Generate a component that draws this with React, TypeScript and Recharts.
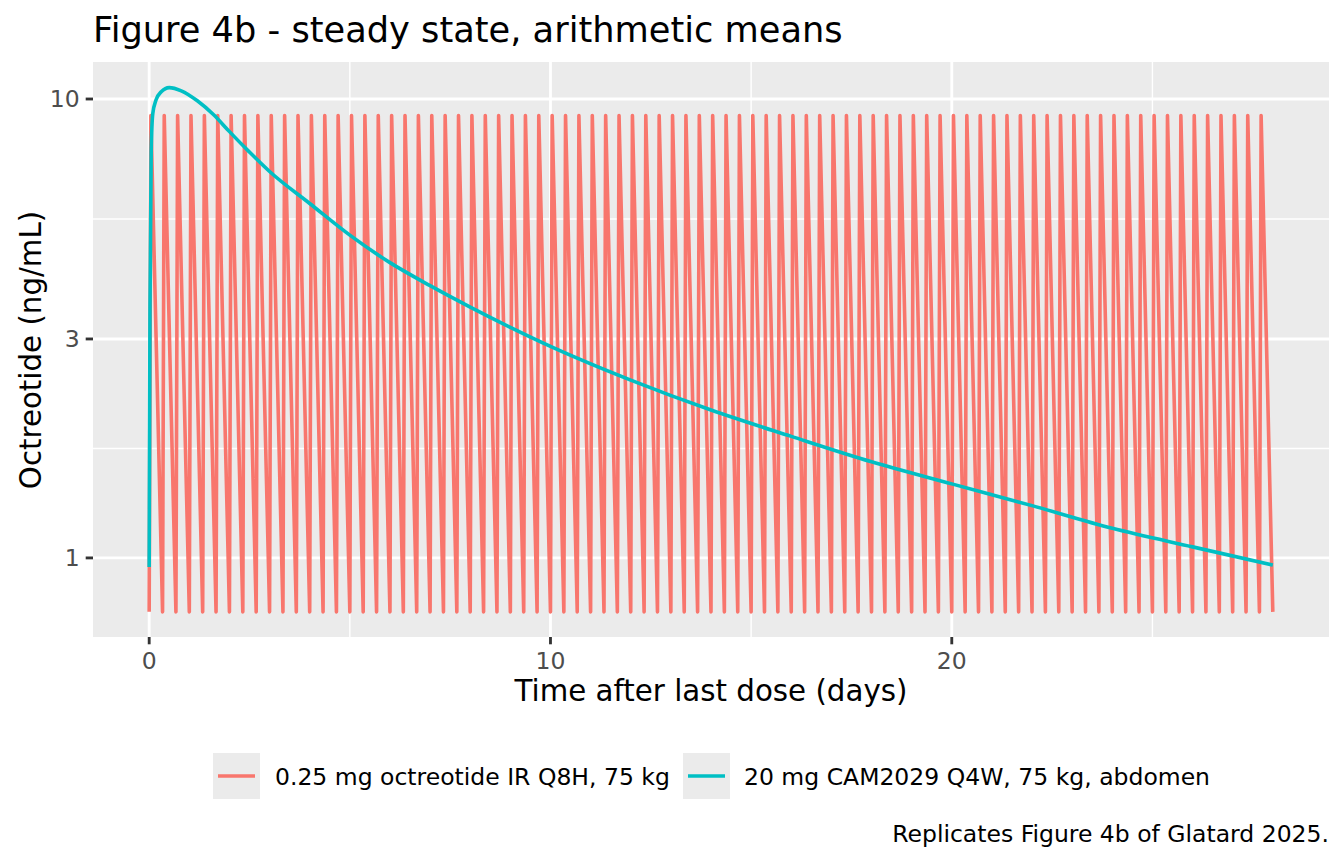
import React from "react";
import {
  LineChart,
  Line,
  XAxis,
  YAxis,
  CartesianGrid,
} from "recharts";

// Series labels and colours (ggplot default hue palette)
const seriesNames = [
  "0.25 mg octreotide IR Q8H, 75 kg",
  "20 mg CAM2029 Q4W, 75 kg, abdomen",
];
const seriesColors = ["#F8766D", "#00BFC4"];

// Octreotide IR: dose every 8 h
const irDoseHours = [
  0, 8, 16, 24, 32, 40, 48, 56, 64, 72, 80, 88, 96, 104, 112, 120, 128, 136,
  144, 152, 160, 168, 176, 184, 192, 200, 208, 216, 224, 232, 240, 248, 256,
  264, 272, 280, 288, 296, 304, 312, 320, 328, 336, 344, 352, 360, 368, 376,
  384, 392, 400, 408, 416, 424, 432, 440, 448, 456, 464, 472, 480, 488, 496,
  504, 512, 520, 528, 536, 544, 552, 560, 568, 576, 584, 592, 600, 608, 616,
  624, 632, 640, 648, 656, 664,
];
const irEndHour = 672;
const irTmaxHours = 1;
const irPeak = 9.2;
const irTrough = 0.763;

// CAM2029 depot: time (days) and concentration (ng/mL)
const camDays = [
  0, 0.02, 0.05, 0.09, 0.17, 0.3, 0.5, 0.8, 1.2, 1.6, 2.0, 2.5, 3, 4, 5, 6, 7,
  8, 9, 10, 12, 14, 16, 18, 20, 22, 24, 26, 28,
];
const camConc = [
  0.956, 3.5, 7.7, 9.3, 9.95, 10.37, 10.59, 10.42, 9.91, 9.25, 8.49, 7.66,
  6.95, 5.92, 5.05, 4.4, 3.92, 3.52, 3.18, 2.89, 2.44, 2.1, 1.84, 1.62, 1.45,
  1.3, 1.16, 1.057, 0.965,
];

// Axis breaks
const xTicks = [0, 10, 20];
const xMinor = [5, 15, 25];
const yTicks = [1, 3, 10];
const yMinor = [1.732, 5.477];

const irData = [
  ...irDoseHours.flatMap((h) => [
    { t: h / 24, c: irTrough },
    { t: (h + irTmaxHours) / 24, c: irPeak },
  ]),
  { t: irEndHour / 24, c: irTrough },
];
const camData = camDays.map((t, i) => ({ t, c: camConc[i] }));

const FONT = '"DejaVu Sans", Verdana, sans-serif';
const GRID = 2.84;
const LW = 3.6;

export default function App() {
  const legendItems = [
    { box: 213, text: 275 },
    { box: 683, text: 744 },
  ];
  return (
    <div
      style={{
        position: "absolute",
        left: 0,
        top: 0,
        width: 1344,
        height: 864,
        background: "#fff",
        fontFamily: FONT,
      }}
    >
      <LineChart
        width={1344}
        height={864}
        margin={{ top: 62, right: 15, bottom: 177, left: 0 }}
      >
        <CartesianGrid
          fill="#EBEBEB"
          stroke="#fff"
          strokeWidth={GRID / 2}
          verticalValues={xMinor}
          horizontalValues={yMinor}
        />
        <CartesianGrid
          fill="none"
          stroke="#fff"
          strokeWidth={GRID}
          verticalValues={xTicks}
          horizontalValues={yTicks}
        />
        <XAxis
          dataKey="t"
          type="number"
          domain={[-1.4, 29.4]}
          ticks={xTicks}
          allowDataOverflow
          height={50}
          axisLine={false}
          tickLine={{ stroke: "#333", strokeWidth: GRID }}
          tickSize={7.3}
          tickMargin={8}
          tick={{ fill: "#4D4D4D", fontSize: 23.5, fontFamily: FONT }}
        />
        <YAxis
          dataKey="c"
          type="number"
          scale="log"
          domain={[0.6725, 12.04]}
          ticks={yTicks}
          allowDataOverflow
          width={93}
          axisLine={false}
          tickLine={{ stroke: "#333", strokeWidth: GRID }}
          tickSize={7.3}
          tickMargin={6}
          tick={{ fill: "#4D4D4D", fontSize: 23.5, fontFamily: FONT }}
        />
        <Line
          data={irData}
          dataKey="c"
          name={seriesNames[0]}
          type="linear"
          stroke={seriesColors[0]}
          strokeWidth={LW}
          strokeLinejoin="round"
          dot={false}
          isAnimationActive={false}
        />
        <Line
          data={camData}
          dataKey="c"
          name={seriesNames[1]}
          type="monotone"
          stroke={seriesColors[1]}
          strokeWidth={LW}
          strokeLinejoin="round"
          dot={false}
          isAnimationActive={false}
        />
      </LineChart>

      <svg
        width={1344}
        height={864}
        style={{ position: "absolute", left: 0, top: 0, pointerEvents: "none" }}
        fontFamily={FONT}
      >
        <text x={93} y={42} fontSize={35.2} fill="#000">
          Figure 4b - steady state, arithmetic means
        </text>
        <text x={711} y={701} fontSize={29.3} fill="#000" textAnchor="middle">
          Time after last dose (days)
        </text>
        <text
          transform="translate(41,350) rotate(-90)"
          fontSize={29.3}
          fill="#000"
          textAnchor="middle"
        >
          Octreotide (ng/mL)
        </text>
        {seriesNames.map((name, i) => (
          <g key={name}>
            <rect
              x={legendItems[i].box}
              y={753}
              width={47}
              height={46}
              fill="#EBEBEB"
            />
            <line
              x1={legendItems[i].box + 5}
              x2={legendItems[i].box + 42}
              y1={776}
              y2={776}
              stroke={seriesColors[i]}
              strokeWidth={LW}
            />
            <text x={legendItems[i].text} y={784.5} fontSize={23.5} fill="#000">
              {name}
            </text>
          </g>
        ))}
        <text x={1329} y={842} fontSize={23.5} fill="#000" textAnchor="end">
          Replicates Figure 4b of Glatard 2025.
        </text>
      </svg>
    </div>
  );
}
